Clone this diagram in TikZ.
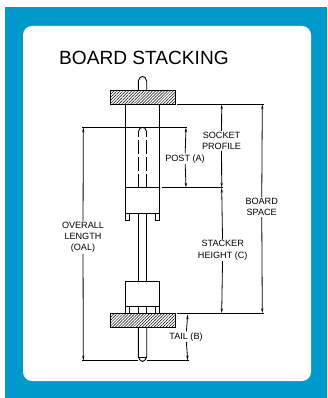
\documentclass[tikz,border=0pt]{standalone}
\usepackage{fontspec}
\setmainfont{Liberation Sans}
\usetikzlibrary{arrows.meta,patterns.meta}
\definecolor{panelblue}{HTML}{0099CC}
\tikzset{
  outline/.style = {line width = .9pt},
  board/.style = {outline, pattern = {Lines[angle = 45, distance = 2.1pt, line width = .5pt]}},
  dimup/.style = {line width = .8pt, {Stealth[length = 5pt, width = 2.2pt]}-},
  dimdown/.style = {line width = .8pt, -{Stealth[length = 5pt, width = 2.2pt]}},
  dimlabel/.style = {align = center, font = \fontsize{9.1}{11.2}\selectfont, inner sep = 1pt}
}
\begin{document}
\begin{tikzpicture}[x = 1pt, y = -1pt]
\useasboundingbox (0,0) rectangle (327,398);
% panel
\fill[panelblue] (5,7) rectangle (327,398);
\fill[white, rounded corners = 9pt] (23,26) rectangle (311,381);
\node[anchor = west, inner sep = 0pt, font = \fontsize{19.1}{22}\selectfont] (title) at (59,57.5) {BOARD STACKING};
% boards
\draw[board] (110.5,90.7) rectangle (175,104.3);
\draw[board] (110.5,313.3) rectangle (175,327.3);
% upper pin and socket
\draw[outline] (138.3,90.7) -- (138.3,81) -- (140,77.5) -- (142.5,76.5) -- (145,77.5) -- (146.7,81) -- (146.7,90.7);
\draw[outline] (125.7,104.3) -- (125.7,187.7);
\draw[outline] (159.3,104.3) -- (159.3,187.7);
\draw[outline, dash pattern = on 14pt off 3pt] (138.3,187.7) -- (138.3,131.7);
\draw[outline, dash pattern = on 14pt off 3pt] (146.7,187.7) -- (146.7,131.7);
\draw[outline] (138.3,131.7) -- (140,128.3) -- (142.5,127.3) -- (145,128.3) -- (146.7,131.7);
\draw[outline] (125.7,187.7) rectangle (159.3,213.3);
\draw[outline] (125.7,213.3) -- (125.7,220.7) -- (129.7,220.7) -- (129.7,213.3);
\draw[outline] (155.3,213.3) -- (155.3,220.7) -- (159.3,220.7) -- (159.3,213.3);
% shank and lower socket
\draw[outline] (138.3,213.3) -- (138.3,281.7);
\draw[outline] (146.7,213.3) -- (146.7,281.7);
\draw[outline] (125.7,281.7) rectangle (159.3,306.7);
\foreach \legx in {125.7,129.7,138.3,146.7,155.3,159.3}
  \draw[outline] (\legx,306.7) -- (\legx,313.3);
% tail
\draw[outline] (138.3,327.3) -- (138.3,357) -- (140,360) -- (142.5,361.5) -- (145,360) -- (146.7,357) -- (146.7,327.3);
\draw[outline] (138.3,357) -- (146.7,357);
% extension lines
\coordinate (oal_top) at (82.3,127.3);
\coordinate (post_end) at (186.7,127.3);
\coordinate (oal_foot) at (82.3,360.7);
\coordinate (pin_left) at (138.3,360.7);
\coordinate (pin_right) at (146.7,360.7);
\coordinate (tail_end) at (189,360.7);
\coordinate (socket_left) at (177.3,104.3);
\coordinate (space_top) at (263.6,104.3);
\coordinate (body_left) at (125.7,187.7);
\coordinate (body_end) at (159.3,187.7);
\coordinate (body_right) at (162.3,187.7);
\coordinate (stack_mid) at (223,187.7);
\coordinate (board_left) at (177.3,313.3);
\coordinate (space_bot) at (263.6,313.3);
\draw[outline] (oal_top) -- (post_end);
\draw[outline] (oal_foot) -- (pin_left);
\draw[outline] (pin_right) -- (tail_end);
\draw[outline] (socket_left) -- (space_top);
\draw[outline] (body_left) -- (body_end);
\draw[outline] (body_right) -- (stack_mid);
\draw[outline] (board_left) -- (space_bot);
% labels
\node[dimlabel] (oal_label) at (83,237.3) {OVERALL\\LENGTH\\(OAL)};
\node[dimlabel] (post_label) at (185,158.8) {POST (A)};
\node[dimlabel] (socket_label) at (221.5,140.8) {SOCKET\\PROFILE};
\node[dimlabel] (stack_label) at (222.7,250.3) {STACKER\\HEIGHT (C)};
\node[dimlabel] (space_label) at (261.7,207) {BOARD\\SPACE};
\node[dimlabel] (tail_label) at (186,336.7) {TAIL (B)};
% dimension arrows
\coordinate (oal_a) at (83.3,127.3);
\coordinate (oal_b) at (83.3,360.7);
\coordinate (post_a) at (186,127.3);
\coordinate (post_b) at (186,187.7);
\coordinate (socket_a) at (221.7,104.3);
\coordinate (socket_b) at (221.7,187.7);
\coordinate (stack_b) at (221.7,313.3);
\coordinate (space_a) at (262.3,104.3);
\coordinate (space_b) at (262.3,313.3);
\coordinate (tail_a) at (187.7,314.3);
\coordinate (tail_b) at (187.7,360.7);
\draw[dimup] (oal_a) -- (oal_label);
\draw[dimdown] (oal_label) -- (oal_b);
\draw[dimup] (post_a) -- (post_label);
\draw[dimdown] (post_label) -- (post_b);
\draw[dimup] (socket_a) -- (socket_label);
\draw[dimdown] (socket_label) -- (socket_b);
\draw[dimup] (socket_b) -- (stack_label);
\draw[dimdown] (stack_label) -- (stack_b);
\draw[dimup] (space_a) -- (space_label);
\draw[dimdown] (space_label) -- (space_b);
\draw[dimup] (tail_a) -- (tail_label);
\draw[dimdown] (tail_label) -- (tail_b);
\end{tikzpicture}
\end{document}
